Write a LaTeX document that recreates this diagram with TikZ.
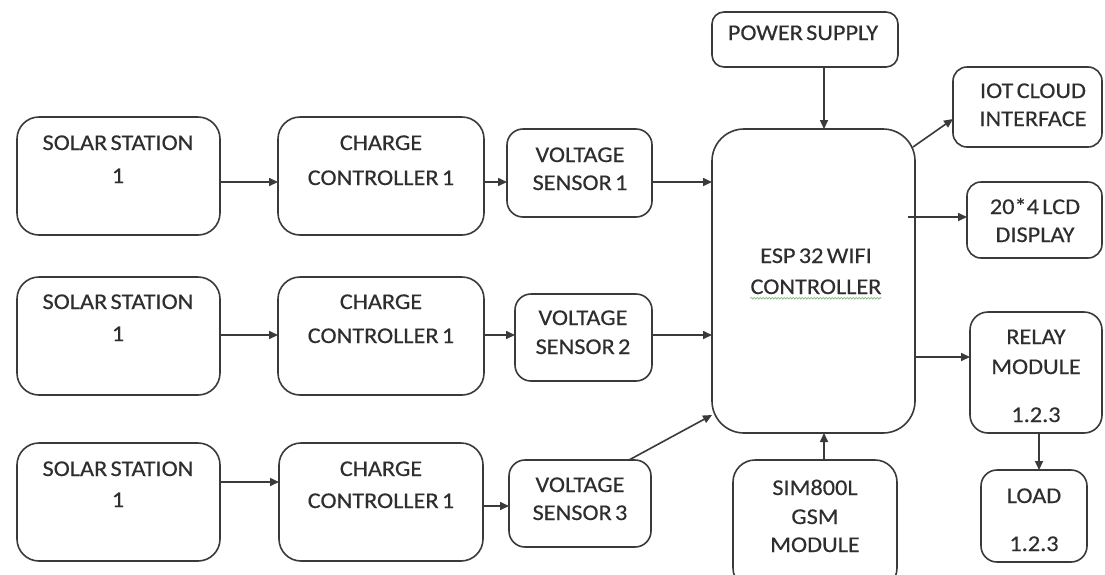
\documentclass[tikz,border=0pt]{standalone}
\usepackage{fontspec}
\setmainfont{Carlito}[FakeStretch=1.08,FakeBold=0.3,WordSpace=0.6]
\usetikzlibrary{arrows.meta,calc,decorations.pathmorphing}
\definecolor{lc}{HTML}{3A3A3A}
\definecolor{tc}{HTML}{2E2E2E}
\definecolor{wavyc}{HTML}{8FC08F}
\tikzset{
  box/.style={draw=lc, line width=1.6pt, anchor=north west, inner sep=0pt, outer sep=0pt},
  tx/.style={text=tc, font=\fontsize{22.5}{26}\selectfont, inner sep=0pt, text height=14pt, text depth=0pt, anchor=center},
  arr/.style={draw=lc, line width=1.6pt, -{Triangle[length=9pt,width=8pt]}},
}
\newcommand\mybox[6]{\node[box, rounded corners=#6pt, minimum width=#4pt, minimum height=#5pt] (#1) at (#2,#3) {};}
\newcommand\mytext[4]{\node[tx] (#1) at (#2,#3) {#4};}
\begin{document}
\begin{tikzpicture}[x=1pt,y=-1pt]
\clip (0,0) rectangle (1105,574);
\fill[white] (0,0) rectangle (1105,574);
% boxes
\mybox{s1}{17}{117}{203}{118}{22}
\mybox{c1}{278}{117}{206}{118}{22}
\mybox{v1}{507}{129}{145}{88}{16}
\mybox{s2}{17}{277}{203}{118}{22}
\mybox{c2}{278}{277}{206}{118}{22}
\mybox{v2}{515}{294}{137}{87}{16}
\mybox{s3}{17}{443}{203}{118}{22}
\mybox{c3}{279}{443}{204}{118}{22}
\mybox{v3}{509}{460}{142}{87}{16}
\mybox{esp}{712}{129}{203}{304}{32}
\mybox{pw}{712}{12}{186}{55}{12}
\mybox{iot}{953}{67}{149}{80}{14}
\mybox{lcd}{967}{182}{135}{76}{14}
\mybox{relay}{970}{312}{132}{121}{18}
\mybox{load}{981}{470}{106}{92}{16}
\mybox{sim}{733}{460}{164}{130}{22}
% texts
\mytext{s1a}{118}{143}{SOLAR STATION}
\mytext{s1b}{118}{176}{1}
\mytext{c1a}{381}{143}{CHARGE}
\mytext{c1b}{381}{178}{CONTROLLER 1}
\mytext{v1a}{580}{155}{VOLTAGE}
\mytext{v1b}{580}{183}{SENSOR 1}
\mytext{s2a}{118}{302}{SOLAR STATION}
\mytext{s2b}{118}{334}{1}
\mytext{c2a}{381}{302}{CHARGE}
\mytext{c2b}{381}{336}{CONTROLLER 1}
\mytext{v2a}{583}{318}{VOLTAGE}
\mytext{v2b}{583}{347}{SENSOR 2}
\mytext{s3a}{118}{469}{SOLAR STATION}
\mytext{s3b}{118}{500}{1}
\mytext{c3a}{381}{469}{CHARGE}
\mytext{c3b}{381}{501}{CONTROLLER 1}
\mytext{v3a}{580}{485}{VOLTAGE}
\mytext{v3b}{580}{513}{SENSOR 3}
\mytext{e1}{816}{256}{ESP 32 WIFI}
\mytext{e2}{816}{287}{CONTROLLER}
\mytext{pwa}{803}{33}{POWER SUPPLY}
\mytext{iota}{1033}{91}{IOT CLOUD}
\mytext{iotb}{1033}{119}{INTERFACE}
\mytext{lcda}{1035}{207}{20*4 LCD}
\mytext{lcdb}{1035}{235}{DISPLAY}
\mytext{rla}{1036}{337}{RELAY}
\mytext{rlb}{1036}{367}{MODULE}
\mytext{rlc}{1036}{415}{1.2.3}
\mytext{lda}{1034}{496}{LOAD}
\mytext{ldb}{1034}{544}{1.2.3}
\mytext{sma}{815}{488}{SIM800L}
\mytext{smb}{815}{517}{GSM}
\mytext{smc}{815}{545}{MODULE}
\draw[wavyc, line width=0.8pt, decorate, decoration={snake, amplitude=0.8pt, segment length=3pt}]
  ($(e2.south west)+(0,4)$) -- ($(e2.south east)+(0,4)$);
% connectors
\draw[arr] (s1.east |- 0,182) -- (c1.west |- 0,182);
\draw[arr] (c1.east |- 0,182) -- (v1.west |- 0,182);
\draw[arr] (v1.east |- 0,182) -- (esp.west |- 0,182);
\draw[arr] (s2.east |- 0,335) -- (c2.west |- 0,335);
\draw[arr] (c2.east |- 0,335) -- (v2.west |- 0,335);
\draw[arr] (v2.east |- 0,335) -- (esp.west |- 0,335);
\draw[arr] (s3.east |- 0,482) -- (c3.west |- 0,482);
\draw[arr] (c3.east |- 0,506) -- (v3.west |- 0,506);
\draw[arr] ($(v3.north east)+(-22,0)$) -- (esp.west |- 0,415);
\draw[arr] (pw.south -| 824,0) -- (esp.north -| 824,0);
\draw[arr] ($(esp.north east)+(-2,18)$) -- (iot.west |- 0,119);
\draw[arr] ($(esp.east |- 0,217)+(-7,0)$) -- (lcd.west |- 0,217);
\draw[arr] (esp.east |- 0,357) -- (relay.west |- 0,357);
\draw[arr] (relay.south -| 1039,0) -- (load.north -| 1039,0);
\draw[arr] (sim.north -| 824,0) -- (esp.south -| 824,0);
\end{tikzpicture}
\end{document}
